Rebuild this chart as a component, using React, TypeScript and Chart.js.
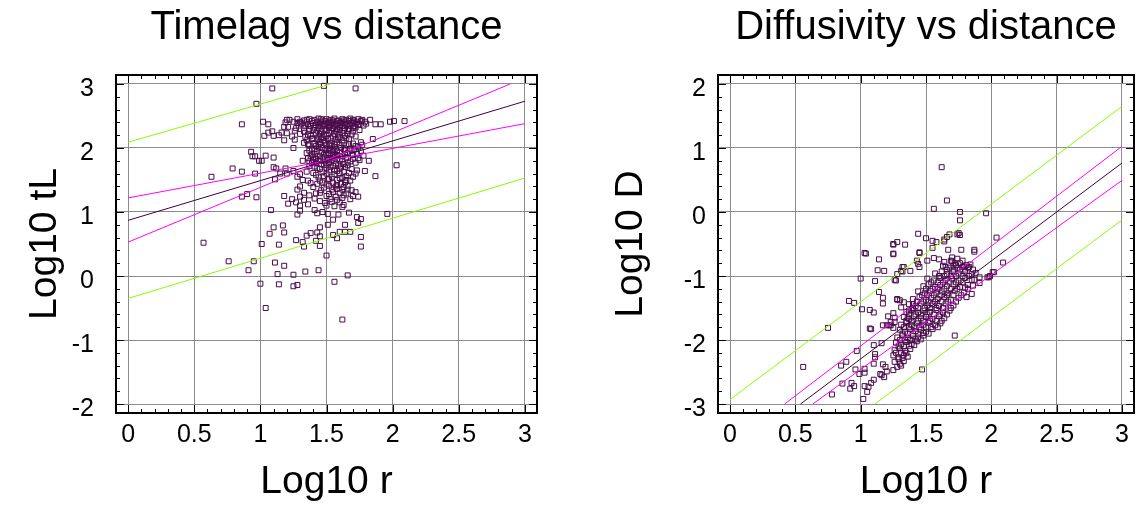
import React, { useEffect, useRef } from "react";
import { Chart, registerables } from "chart.js";
Chart.register(...registerables);

const FONT = '"Liberation Sans", Arial, Helvetica, sans-serif';

// ---------- ticks ----------
const xTicks = [0, 0.5, 1, 1.5, 2, 2.5, 3];
const timelagYTicks = [-2, -1, 0, 1, 2, 3];
const diffusivityYTicks = [-3, -2, -1, 0, 1, 2];

// ---------- Timelag vs distance ----------
const timelagPoints: [number, number][] = [
  [1.09, 2.93], [1.48, 2.97], [1.72, 2.93], [0.97, 2.69], [0.86, 2.37], [1.02, 2.41], [1.06, 2.37],
  [1.09, 2.26], [1.06, 2.24], [1.03, 2.19], [1.10, 2.19], [1.14, 2.2], [1.16, 2.24], [1.2, 2.23], [1.18, 2.12],
  [0.93, 1.94], [0.94, 1.87], [0.96, 1.87], [0.99, 1.8], [1.01, 1.8], [1.04, 1.88], [1.10, 1.85],
  [0.79, 1.68], [0.86, 1.63], [0.96, 1.6], [0.63, 1.55], [1.10, 1.70], [1.12, 1.68], [1.15, 1.6], [1.11, 1.51],
  [0.86, 1.24], [0.9, 1.28], [0.97, 1.23],
  [2.09, 2.42], [2.01, 2.42], [1.98, 2.41], [1.91, 2.37], [1.87, 2.37], [1.83, 2.44], [1.80, 2.38],
  [2.03, 1.73], [1.87, 1.56], [1.85, 2.14],
  [1.2, 2.44], [1.19, 2.40], [1.21, 2.33], [1.18, 2.33], [1.25, 2.41], [1.27, 2.31], [1.28, 2.39],
  [1.21, 1.13], [1.08, 1.03], [1.28, 0.96], [1.30, 1.02], [1.41, 1.03], [1.43, 0.98], [1.47, 1.0], [1.51, 0.97],
  [1.59, 0.96], [1.55, 0.88], [1.62, 1.08], [1.67, 0.99], [1.73, 0.92], [1.76, 0.89], [1.74, 0.83], [1.96, 0.97],
  [1.51, 0.80], [1.45, 0.76], [1.64, 0.80], [1.6, 0.69], [1.64, 0.69], [1.68, 0.69], [1.10, 0.76], [1.17, 0.79],
  [1.18, 0.68], [1.07, 0.66], [1.55, 0.64], [1.58, 0.59], [1.76, 0.61], [1.76, 0.46], [1.35, 0.63], [1.38, 0.67],
  [1.43, 0.68], [1.45, 0.62], [1.42, 0.55], [1.27, 0.56], [1.32, 0.53], [1.33, 0.46], [1.45, 0.47],
  [1.14, 0.49], [1.01, 0.5], [0.57, 0.52], [1.50, 0.32], [0.76, 0.23], [0.95, 0.23], [0.91, 0.09], [1.11, 0.21],
  [1.18, 0.16], [1.13, 0.03], [1.25, 0.02], [1.34, 0.07], [1.44, 0.09], [1.56, -0.09], [1.66, 0.01], [1.0, -0.12],
  [1.14, -0.13], [1.25, -0.16], [1.28, -0.14], [1.04, -0.5], [1.62, -0.68],
  [1.22, 2.44], [1.28, 2.45], [1.33, 2.43], [1.37, 2.45], [1.41, 2.44], [1.44, 2.46], [1.47, 2.43], [1.5, 2.45],
  [1.53, 2.44], [1.56, 2.46], [1.59, 2.43], [1.62, 2.45], [1.65, 2.44], [1.68, 2.46], [1.71, 2.43], [1.74, 2.45], [1.77, 2.44],
  [1.3, 2.41], [1.35, 2.40], [1.39, 2.42], [1.43, 2.41], [1.46, 2.40], [1.49, 2.42], [1.52, 2.41], [1.55, 2.40],
  [1.58, 2.42], [1.61, 2.41], [1.64, 2.40], [1.67, 2.42], [1.7, 2.41], [1.73, 2.40], [1.76, 2.42],
  [1.31, 2.38], [1.36, 2.37], [1.4, 2.39], [1.45, 2.38], [1.48, 2.37], [1.51, 2.39], [1.54, 2.38], [1.57, 2.37],
  [1.6, 2.39], [1.63, 2.38], [1.66, 2.37], [1.69, 2.39], [1.72, 2.38], [1.75, 2.37],
  [1.34, 2.35], [1.38, 2.34], [1.42, 2.36], [1.47, 2.35], [1.5, 2.34], [1.53, 2.36], [1.56, 2.35], [1.62, 2.34],
  [1.65, 2.36], [1.68, 2.35], [1.71, 2.34], [1.74, 2.36], [1.78, 2.35],
  [1.33, 2.31], [1.37, 2.30], [1.41, 2.32], [1.44, 2.31], [1.49, 2.30], [1.52, 2.32], [1.55, 2.31], [1.58, 2.30],
  [1.6, 2.32], [1.64, 2.31], [1.67, 2.30], [1.72, 2.32],
  [1.26, 2.27], [1.33, 2.26], [1.4, 2.28], [1.43, 2.27], [1.46, 2.26], [1.5, 2.28], [1.54, 2.27], [1.57, 2.26],
  [1.6, 2.28], [1.63, 2.27], [1.7, 2.26], [1.75, 2.28],
  [1.3, 2.22], [1.36, 2.21], [1.42, 2.23], [1.45, 2.22], [1.48, 2.21], [1.52, 2.23], [1.56, 2.22], [1.59, 2.21],
  [1.62, 2.23], [1.66, 2.22], [1.69, 2.21],
  [1.24, 2.18], [1.34, 2.17], [1.38, 2.19], [1.44, 2.18], [1.47, 2.17], [1.5, 2.19], [1.55, 2.18], [1.6, 2.17],
  [1.64, 2.19], [1.72, 2.18],
  [1.26, 2.13], [1.35, 2.12], [1.4, 2.14], [1.43, 2.13], [1.48, 2.12], [1.51, 2.14], [1.57, 2.13], [1.62, 2.12], [1.67, 2.14],
  [1.33, 2.08], [1.41, 2.07], [1.45, 2.09], [1.49, 2.08], [1.53, 2.07], [1.58, 2.09], [1.63, 2.08], [1.7, 2.07], [1.76, 2.09],
  [1.37, 2.04], [1.42, 2.03], [1.46, 2.05], [1.5, 2.04], [1.54, 2.03], [1.6, 2.05], [1.65, 2.04], [1.72, 2.03], [1.77, 2.05],
  [1.25, 2.0], [1.39, 1.99], [1.44, 2.01], [1.47, 2.0], [1.52, 1.99], [1.56, 2.01], [1.61, 2.0], [1.68, 1.99], [1.74, 2.01],
  [1.37, 1.96], [1.43, 1.95], [1.49, 1.97], [1.53, 1.96], [1.58, 1.95], [1.64, 1.97], [1.69, 1.96], [1.76, 1.95],
  [1.35, 1.92], [1.41, 1.91], [1.46, 1.93], [1.51, 1.92], [1.56, 1.91], [1.6, 1.93], [1.66, 1.92], [1.73, 1.91],
  [1.38, 1.88], [1.45, 1.87], [1.5, 1.89], [1.55, 1.88], [1.62, 1.87], [1.7, 1.89], [1.78, 1.88],
  [1.36, 1.84], [1.42, 1.83], [1.47, 1.85], [1.53, 1.84], [1.58, 1.83], [1.65, 1.85], [1.74, 1.84],
  [1.32, 1.8], [1.37, 1.79], [1.4, 1.81], [1.44, 1.8], [1.49, 1.79], [1.54, 1.81], [1.6, 1.8], [1.68, 1.79], [1.75, 1.81], [1.82, 1.8],
  [1.42, 1.76], [1.46, 1.75], [1.52, 1.77], [1.57, 1.76], [1.63, 1.75], [1.72, 1.77],
  [1.37, 1.72], [1.41, 1.71], [1.48, 1.73], [1.55, 1.72], [1.61, 1.71], [1.66, 1.73],
  [1.19, 1.68], [1.45, 1.67], [1.5, 1.69], [1.6, 1.68], [1.69, 1.67],
  [1.25, 1.64], [1.35, 1.63], [1.52, 1.65], [1.58, 1.64], [1.63, 1.63], [1.73, 1.65], [1.79, 1.64],
  [1.2, 1.6], [1.3, 1.59], [1.4, 1.61], [1.5, 1.6], [1.56, 1.59], [1.67, 1.61], [1.72, 1.6],
  [1.28, 1.55], [1.44, 1.54], [1.48, 1.56], [1.54, 1.55], [1.62, 1.54], [1.65, 1.56], [1.7, 1.55],
  [1.32, 1.5], [1.36, 1.49], [1.51, 1.51], [1.58, 1.5], [1.68, 1.49],
  [1.38, 1.45], [1.43, 1.44], [1.47, 1.46], [1.55, 1.45], [1.61, 1.44], [1.64, 1.46],
  [1.3, 1.4], [1.4, 1.39], [1.52, 1.41], [1.57, 1.4], [1.63, 1.39], [1.66, 1.41],
  [1.28, 1.35], [1.46, 1.34], [1.58, 1.36], [1.62, 1.35], [1.69, 1.34],
  [1.33, 1.3], [1.42, 1.29], [1.55, 1.31], [1.6, 1.3], [1.65, 1.29], [1.72, 1.31],
  [1.18, 1.25], [1.3, 1.24], [1.37, 1.26], [1.5, 1.25], [1.57, 1.24], [1.63, 1.26], [1.7, 1.25], [1.74, 1.24],
  [1.24, 1.2], [1.33, 1.19], [1.41, 1.21], [1.53, 1.2], [1.58, 1.19],
  [1.27, 1.15], [1.49, 1.14], [1.54, 1.16], [1.6, 1.15],
  [1.3, 1.1], [1.56, 1.09], [1.63, 1.11],
  [1.39, 2.15], [1.46, 2.15], [1.53, 2.16], [1.59, 2.15], [1.65, 2.16],
  [1.36, 2.06], [1.44, 2.06], [1.52, 2.05], [1.56, 2.06], [1.67, 2.06],
  [1.41, 1.98], [1.5, 1.98], [1.55, 1.97], [1.63, 1.98], [1.71, 1.98],
  [1.39, 1.9], [1.48, 1.9], [1.53, 1.9], [1.58, 1.89], [1.64, 1.9],
  [1.4, 1.86], [1.45, 1.82], [1.51, 1.82], [1.56, 1.86], [1.62, 1.82], [1.7, 1.83],
  [1.39, 1.77], [1.5, 1.74], [1.59, 1.74], [1.66, 1.77], [1.43, 1.69], [1.53, 1.7], [1.64, 1.7], [1.56, 1.66],
  [1.47, 1.62], [1.6, 1.6], [1.42, 1.58], [1.52, 1.52], [1.6, 1.53], [1.45, 1.49], [1.65, 1.5], [1.5, 1.43],
  [1.58, 1.42], [1.48, 1.38], [1.54, 1.35], [1.66, 1.35], [1.45, 1.3], [1.52, 1.28], [1.62, 1.22], [1.68, 1.2],
  [1.45, 1.17], [1.36, 1.12], [1.5, 1.1],
  [1.29, 2.35], [1.35, 2.44], [1.46, 2.45], [1.55, 2.43], [1.63, 2.43], [1.7, 2.44], [1.79, 2.41], [1.44, 2.35],
  [1.59, 2.35], [1.7, 2.31], [1.37, 2.27], [1.66, 2.27],
];
const timelagFit: [number, number][] = [[0, 0.87], [3, 2.73]];
const timelagSlopeLow: [number, number][] = [[0, 1.22], [3, 2.38]];
const timelagSlopeHigh: [number, number][] = [[0, 0.53], [2.89, 3.0]];
const timelagPredUpper: [number, number][] = [[0, 2.09], [1.53, 3.0]];
const timelagPredLower: [number, number][] = [[0, -0.35], [3, 1.53]];

// ---------- Diffusivity vs distance ----------
const diffusivityPoints: [number, number][] = [
  [1.62, 0.70], [1.66, 0.18], [1.56, 0.05], [1.76, 0.0], [1.76, -0.13], [1.96, -0.02], [2.04, -0.40], [2.09, -0.79],
  [1.44, -0.34], [1.50, -0.41], [1.55, -0.45], [1.64, -0.46], [1.66, -0.39], [1.68, -0.35], [1.75, -0.33], [1.76, -0.36],
  [1.34, -0.51], [1.28, -0.47], [1.25, -0.50],
  [1.03, -0.64], [1.25, -0.65], [1.45, -0.64], [1.14, -0.74], [1.13, -0.91], [1.18, -0.92], [1.32, -0.86], [1.31, -0.92], [1.38, -0.92],
  [1.0, -1.04], [1.11, -1.08], [1.26, -1.06], [1.14, -1.25], [1.17, -1.34], [1.17, -1.43], [0.91, -1.39], [0.95, -1.42],
  [1.01, -1.52], [1.07, -1.53], [1.10, -1.57],
  [0.75, -1.81], [1.07, -1.82], [1.17, -1.77], [1.20, -1.77], [1.23, -1.77], [1.23, -1.72],
  [0.56, -2.42], [0.85, -2.40], [0.89, -2.34], [0.97, -2.17], [1.10, -2.08], [1.16, -2.05], [1.10, -2.37], [1.11, -2.22], [1.11, -2.27],
  [1.03, -2.45], [1.03, -2.51], [0.96, -2.46], [0.99, -2.53], [0.86, -2.68], [0.93, -2.67], [0.92, -2.76], [0.95, -2.72],
  [0.78, -2.85], [1.02, -2.92], [1.03, -2.72], [1.06, -2.73], [1.05, -2.81], [1.08, -2.67], [1.10, -2.62],
  [1.17, -2.38], [1.19, -2.42], [1.20, -2.49], [1.16, -2.55], [1.18, -2.58], [1.15, -2.53], [1.25, -2.47], [1.47, -2.46], [1.72, -1.93],
  [1.85, -0.97], [1.86, -0.90], [1.97, -1.02], [1.99, -1.00], [2.02, -0.94], [1.87, -0.62], [1.81, -0.83], [1.83, -0.86], [1.91, -1.11], [1.87, -0.59],
  [1.58, -0.47], [1.64, -0.43], [1.67, -0.59], [1.77, -0.59], [1.74, -0.35],
  [1.55, -0.56], [1.45, -0.63], [1.43, -0.76], [1.44, -0.81], [1.45, -0.86], [1.33, -0.86], [1.32, -0.93], [1.28, -0.97],
  [1.56, -0.72], [1.60, -0.74], [1.51, -0.76], [1.64, -0.78], [1.69, -0.76], [1.70, -0.71], [1.71, -0.84], [1.65, -0.86],
  [1.79, -0.85], [1.82, -0.87], [1.80, -0.90], [1.74, -0.87],
  [2.01, -0.94], [1.98, -1.02], [1.91, -1.02], [1.87, -1.06], [1.86, -1.15], [1.82, -1.2], [1.85, -1.28], [1.81, -1.33], [1.80, -1.18],
  [1.04, -0.65], [1.25, -0.51], [1.25, -0.66], [1.27, -1.07], [1.28, -1.36],
  [1.21, -1.63], [1.25, -1.58], [1.26, -1.65], [1.26, -1.72], [1.22, -1.77], [1.25, -1.81], [1.28, -1.37], [1.30, -1.38],
  [1.33, -1.41], [1.31, -1.49], [1.37, -1.54], [1.40, -1.44], [1.36, -1.65], [1.40, -1.51], [1.08, -1.83],
  [1.70, -0.77], [1.74, -0.73], [1.78, -0.76],
  [1.63, -0.84], [1.68, -0.87], [1.73, -0.83], [1.78, -0.86], [1.84, -0.82],
  [1.57, -0.96], [1.62, -0.93], [1.66, -0.97], [1.71, -0.94], [1.75, -0.96], [1.80, -0.93], [1.88, -0.95],
  [1.51, -1.04], [1.56, -1.07], [1.61, -1.03], [1.65, -1.06], [1.70, -1.04], [1.75, -1.07], [1.80, -1.03], [1.85, -1.06],
  [1.48, -1.16], [1.52, -1.13], [1.57, -1.17], [1.61, -1.14], [1.66, -1.16], [1.71, -1.13], [1.76, -1.17], [1.82, -1.14],
  [1.44, -1.24], [1.49, -1.27], [1.53, -1.23], [1.58, -1.26], [1.62, -1.24], [1.67, -1.27], [1.72, -1.23], [1.79, -1.26],
  [1.40, -1.36], [1.45, -1.33], [1.50, -1.37], [1.54, -1.34], [1.59, -1.36], [1.64, -1.33], [1.69, -1.37], [1.75, -1.34],
  [1.37, -1.44], [1.42, -1.47], [1.46, -1.43], [1.51, -1.46], [1.55, -1.44], [1.60, -1.47], [1.65, -1.43], [1.71, -1.46],
  [1.35, -1.56], [1.39, -1.53], [1.44, -1.57], [1.48, -1.54], [1.53, -1.56], [1.58, -1.53], [1.63, -1.57], [1.68, -1.54],
  [1.33, -1.64], [1.37, -1.67], [1.41, -1.63], [1.46, -1.66], [1.50, -1.64], [1.55, -1.67], [1.60, -1.63], [1.64, -1.66],
  [1.31, -1.76], [1.35, -1.73], [1.39, -1.77], [1.43, -1.74], [1.48, -1.76], [1.52, -1.73], [1.57, -1.77], [1.61, -1.74],
  [1.30, -1.84], [1.34, -1.87], [1.38, -1.83], [1.42, -1.86], [1.46, -1.84], [1.50, -1.87], [1.55, -1.83],
  [1.28, -1.96], [1.32, -1.93], [1.36, -1.97], [1.40, -1.94], [1.44, -1.96], [1.48, -1.93],
  [1.27, -2.04], [1.31, -2.07], [1.35, -2.03], [1.39, -2.06], [1.43, -2.02],
  [1.26, -2.16], [1.30, -2.13], [1.34, -2.17], [1.38, -2.14],
  [1.25, -2.24], [1.29, -2.27], [1.33, -2.23], [1.36, -2.26],
  [1.26, -2.34], [1.30, -2.37], [1.33, -2.33],
  [1.28, -2.42], [1.31, -2.40],
  [1.29, -2.3], [1.32, -2.28], [1.27, -2.2], [1.31, -2.2], [1.35, -2.2], [1.29, -2.1], [1.33, -2.1], [1.37, -2.09],
  [1.41, -2.08], [1.3, -2.0], [1.34, -2.0], [1.38, -2.0], [1.42, -1.99], [1.46, -1.99], [1.32, -1.9], [1.36, -1.9],
  [1.4, -1.9], [1.44, -1.9], [1.48, -1.89], [1.52, -1.9],
  [1.33, -1.8], [1.37, -1.8], [1.41, -1.8], [1.45, -1.8], [1.5, -1.8], [1.54, -1.8], [1.59, -1.8],
  [1.35, -1.7], [1.39, -1.7], [1.44, -1.7], [1.48, -1.7], [1.53, -1.7], [1.58, -1.7], [1.62, -1.7],
  [1.37, -1.6], [1.42, -1.6], [1.46, -1.6], [1.51, -1.6], [1.56, -1.6], [1.61, -1.6], [1.66, -1.6],
  [1.4, -1.5], [1.44, -1.5], [1.49, -1.5], [1.53, -1.5], [1.58, -1.5], [1.63, -1.5], [1.69, -1.5],
  [1.43, -1.4], [1.48, -1.4], [1.52, -1.4], [1.57, -1.4], [1.62, -1.4], [1.67, -1.4], [1.73, -1.4],
  [1.47, -1.3], [1.51, -1.3], [1.56, -1.3], [1.61, -1.3], [1.66, -1.3], [1.71, -1.3], [1.77, -1.3],
  [1.5, -1.2], [1.55, -1.2], [1.59, -1.2], [1.64, -1.2], [1.69, -1.2], [1.74, -1.2],
  [1.54, -1.1], [1.59, -1.1], [1.63, -1.1], [1.68, -1.1], [1.73, -1.1], [1.78, -1.1],
  [1.6, -1.0], [1.64, -1.0], [1.69, -1.0], [1.73, -1.0], [1.78, -1.0], [1.83, -1.0],
  [1.66, -0.9], [1.71, -0.9], [1.76, -0.9], [1.72, -0.8], [1.76, -0.8],
];
const diffusivityFit: [number, number][] = [[0.539, -3], [3, 0.765]];
const diffusivityConfUpper: [number, number][] = [[0.418, -3], [3, 1.026]];
const diffusivityConfLower: [number, number][] = [[0.633, -3], [3, 0.494]];
const diffusivityPredUpper: [number, number][] = [[0, -2.93], [3, 1.65]];
const diffusivityPredLower: [number, number][] = [[1.108, -3], [3, -0.125]];

// ---------- colours ----------
const POINT_COLOR = "#4a0c4a";
const FIT_COLOR = "#3d003d";
const MAGENTA = "#ff00ff";
const GREEN = "#80ff00";

type Spec = {
  title: string;
  yTitle: string;
  xTitle: string;
  yTicks: number[];
  yMin: number;
  yMax: number;
  points: [number, number][];
  lines: { data: [number, number][]; color: string }[];
  yWidth: number;
  padRight: number;
  yTitleX: number;
  yTickPad: number;
};

const toXY = (arr: [number, number][]) => arr.map(([x, y]) => ({ x, y }));

function decor(spec: Spec) {
  return {
    id: "decor",
    afterDraw(chart: any) {
      const { ctx, chartArea: a } = chart;
      const xs = chart.scales.x;
      const ys = chart.scales.y;
      ctx.save();
      ctx.strokeStyle = "#000";
      ctx.lineWidth = 1;
      ctx.beginPath();
      for (let i = 0; i < xTicks.length; i++) {
        const subs = i < xTicks.length - 1 ? 5 : 1;
        for (let k = 0; k < subs; k++) {
          const v = i < xTicks.length - 1 ? xTicks[i] + ((xTicks[i + 1] - xTicks[i]) * k) / 5 : xTicks[i];
          const px = Math.round(xs.getPixelForValue(v)) + 0.5;
          const len = k === 0 ? 8 : 4;
          ctx.moveTo(px, a.top);
          ctx.lineTo(px, a.top + len);
          ctx.moveTo(px, a.bottom);
          ctx.lineTo(px, a.bottom - len);
        }
      }
      const yt = spec.yTicks;
      for (let i = 0; i < yt.length; i++) {
        const subs = i < yt.length - 1 ? 5 : 1;
        for (let k = 0; k < subs; k++) {
          const v = i < yt.length - 1 ? yt[i] + ((yt[i + 1] - yt[i]) * k) / 5 : yt[i];
          const py = Math.round(ys.getPixelForValue(v)) + 0.5;
          const len = k === 0 ? 8 : 4;
          ctx.moveTo(a.left, py);
          ctx.lineTo(a.left + len, py);
          ctx.moveTo(a.right, py);
          ctx.lineTo(a.right - len, py);
        }
      }
      ctx.stroke();
      ctx.lineWidth = 2;
      ctx.strokeRect(a.left, a.top, a.right - a.left, a.bottom - a.top);
      ctx.fillStyle = "#000";
      ctx.textAlign = "center";
      ctx.textBaseline = "alphabetic";
      const cx = (a.left + a.right) / 2;
      ctx.font = `40px ${FONT}`;
      ctx.fillText(spec.title, cx, 39);
      ctx.font = `39px ${FONT}`;
      ctx.fillText(spec.xTitle, cx, 493);
      ctx.translate(spec.yTitleX, (a.top + a.bottom) / 2);
      ctx.rotate(-Math.PI / 2);
      ctx.fillText(spec.yTitle, 0, 0);
      ctx.restore();
    },
  };
}

function makeConfig(spec: Spec): any {
  const lineSets = spec.lines.map((l) => ({
    type: "line",
    data: toXY(l.data),
    borderColor: l.color,
    borderWidth: 1,
    pointRadius: 0,
    fill: false,
    tension: 0,
    showLine: true,
  }));
  return {
    type: "scatter",
    data: {
      datasets: [
        ...lineSets,
        {
          type: "scatter",
          data: toXY(spec.points),
          pointStyle: "rect",
          pointRadius: 3.5,
          borderWidth: 1,
          borderColor: POINT_COLOR,
          backgroundColor: "rgba(255,255,255,0)",
        },
      ],
    },
    options: {
      animation: false,
      responsive: false,
      events: [],
      layout: { padding: { top: 75, right: spec.padRight, left: 0, bottom: 0 } },
      plugins: { legend: { display: false }, tooltip: { enabled: false }, title: { display: false } },
      scales: {
        x: {
          type: "linear",
          min: -0.092,
          max: 3.092,
          afterBuildTicks: (s: any) => {
            s.ticks = xTicks.map((v) => ({ value: v }));
          },
          afterFit: (s: any) => {
            s.height = 92;
          },
          grid: { color: "#8c8c8c", lineWidth: 1, drawTicks: false },
          border: { display: false },
          ticks: {
            font: { family: FONT, size: 25 },
            color: "#000",
            padding: 7,
            maxRotation: 0,
            autoSkip: false,
            callback: (v: number) => String(v),
          },
        },
        y: {
          type: "linear",
          min: spec.yMin,
          max: spec.yMax,
          afterBuildTicks: (s: any) => {
            s.ticks = spec.yTicks.map((v) => ({ value: v }));
          },
          afterFit: (s: any) => {
            s.width = spec.yWidth;
          },
          grid: { color: "#8c8c8c", lineWidth: 1, drawTicks: false },
          border: { display: false },
          ticks: {
            font: { family: FONT, size: 25 },
            color: "#000",
            padding: spec.yTickPad,
            labelOffset: 5,
            autoSkip: false,
            callback: (v: number) => String(v),
          },
        },
      },
    },
    plugins: [decor(spec)],
  };
}

const leftSpec: Spec = {
  title: "Timelag vs distance",
  yTitle: "Log10 tL",
  xTitle: "Log10 r",
  yTicks: timelagYTicks,
  yMin: -2.14,
  yMax: 3.14,
  points: timelagPoints,
  lines: [
    { data: timelagFit, color: FIT_COLOR },
    { data: timelagSlopeLow, color: MAGENTA },
    { data: timelagSlopeHigh, color: MAGENTA },
    { data: timelagPredUpper, color: GREEN },
    { data: timelagPredLower, color: GREEN },
  ],
  yWidth: 116,
  padRight: 33,
  yTitleX: 56,
  yTickPad: 22,
};

const rightSpec: Spec = {
  title: "Diffusivity vs distance",
  yTitle: "Log10 D",
  xTitle: "Log10 r",
  yTicks: diffusivityYTicks,
  yMin: -3.14,
  yMax: 2.14,
  points: diffusivityPoints,
  lines: [
    { data: diffusivityFit, color: FIT_COLOR },
    { data: diffusivityConfUpper, color: MAGENTA },
    { data: diffusivityConfLower, color: MAGENTA },
    { data: diffusivityPredUpper, color: GREEN },
    { data: diffusivityPredLower, color: GREEN },
  ],
  yWidth: 148,
  padRight: 1,
  yTitleX: 72,
  yTickPad: 12,
};

function Plot({ spec, left, width }: { spec: Spec; left: number; width: number }) {
  const ref = useRef<HTMLCanvasElement>(null);
  useEffect(() => {
    const chart = new Chart(ref.current as HTMLCanvasElement, makeConfig(spec));
    return () => chart.destroy();
  }, [spec]);
  return (
    <canvas
      ref={ref}
      width={width}
      height={505}
      style={{ position: "absolute", left, top: 0, width, height: 505, display: "block" }}
    />
  );
}

export default function App() {
  return (
    <div style={{ position: "absolute", left: 0, top: 0, width: 1139, height: 505, background: "#fff", overflow: "hidden" }}>
      <Plot spec={leftSpec} left={0} width={570} />
      <Plot spec={rightSpec} left={570} width={569} />
    </div>
  );
}
